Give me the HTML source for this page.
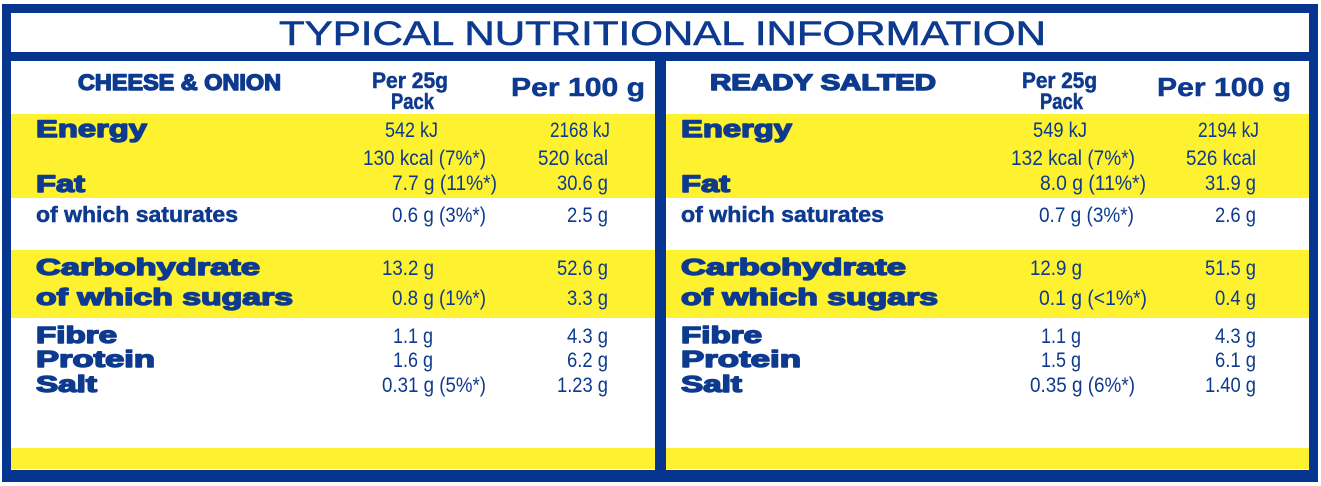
<!DOCTYPE html>
<html>
<head>
<meta charset="utf-8">
<style>
  html,body{margin:0;padding:0;background:#fff;}
  svg{display:block;}
  .t{font-family:"Liberation Sans",Arial,sans-serif;fill:#0d3a8e;}
  .hv{font-weight:700;stroke:#0d3a8e;stroke-width:1.4;stroke-linejoin:round;}
  .bc{font-weight:700;stroke:#0d3a8e;stroke-width:0.5;}
  .v{font-weight:400;}
  .ti{stroke:#0d3a8e;stroke-width:0.6;}
</style>
</head>
<body>
<svg width="1321" height="486" viewBox="0 0 1321 486" xmlns="http://www.w3.org/2000/svg">
  <rect x="0" y="0" width="1321" height="486" fill="#ffffff"/>
  <rect x="2" y="4" width="1316" height="478" fill="#06358f"/>
  <rect x="11" y="13" width="1298" height="39" fill="#ffffff"/>
  <rect x="11" y="61" width="644" height="409" fill="#ffffff"/>
  <rect x="666" y="61" width="643" height="409" fill="#ffffff"/>
  <rect x="11" y="114" width="644" height="84" fill="#fdf130"/>
  <rect x="11" y="250" width="644" height="68" fill="#fdf130"/>
  <rect x="11" y="448" width="644" height="21" fill="#fdf130"/>
  <rect x="666" y="114" width="643" height="84" fill="#fdf130"/>
  <rect x="666" y="250" width="643" height="68" fill="#fdf130"/>
  <rect x="666" y="448" width="643" height="21" fill="#fdf130"/>

  <text class="t ti" x="279" y="45" font-size="34" textLength="767" lengthAdjust="spacingAndGlyphs">TYPICAL NUTRITIONAL INFORMATION</text>

  <text class="t hv" x="78" y="90" font-size="22" textLength="203" lengthAdjust="spacingAndGlyphs">CHEESE &amp; ONION</text>
  <text class="t bc" x="372" y="88" font-size="22" textLength="76" lengthAdjust="spacingAndGlyphs">Per 25g</text>
  <text class="t bc" x="391" y="109" font-size="22" textLength="43" lengthAdjust="spacingAndGlyphs">Pack</text>
  <text class="t bc" x="511" y="96" font-size="26" textLength="134" lengthAdjust="spacingAndGlyphs">Per 100 g</text>

  <text class="t hv" x="36" y="137" font-size="24" textLength="111" lengthAdjust="spacingAndGlyphs">Energy</text>
  <text class="t hv" x="36" y="192" font-size="24" textLength="49" lengthAdjust="spacingAndGlyphs">Fat</text>
  <text class="t bc" x="36" y="222" font-size="22" textLength="202" lengthAdjust="spacingAndGlyphs">of which saturates</text>
  <text class="t hv" x="36" y="275" font-size="23" textLength="224" lengthAdjust="spacingAndGlyphs">Carbohydrate</text>
  <text class="t hv" x="36" y="305" font-size="23" textLength="257" lengthAdjust="spacingAndGlyphs">of which sugars</text>
  <text class="t hv" x="36" y="343" font-size="23" textLength="81" lengthAdjust="spacingAndGlyphs">Fibre</text>
  <text class="t hv" x="36" y="367" font-size="23" textLength="119" lengthAdjust="spacingAndGlyphs">Protein</text>
  <text class="t hv" x="36" y="392" font-size="23" textLength="61" lengthAdjust="spacingAndGlyphs">Salt</text>

  <text class="t v" x="385" y="137" font-size="21" textLength="53" lengthAdjust="spacingAndGlyphs">542 kJ</text>
  <text class="t v" x="363" y="165" font-size="21" textLength="123" lengthAdjust="spacingAndGlyphs">130 kcal (7%*)</text>
  <text class="t v" x="392" y="190" font-size="21" textLength="105" lengthAdjust="spacingAndGlyphs">7.7 g (11%*)</text>
  <text class="t v" x="392" y="222" font-size="21" textLength="94" lengthAdjust="spacingAndGlyphs">0.6 g (3%*)</text>
  <text class="t v" x="382" y="275" font-size="21" textLength="52" lengthAdjust="spacingAndGlyphs">13.2 g</text>
  <text class="t v" x="392" y="305" font-size="21" textLength="94" lengthAdjust="spacingAndGlyphs">0.8 g (1%*)</text>
  <text class="t v" x="393" y="343" font-size="21" textLength="40" lengthAdjust="spacingAndGlyphs">1.1 g</text>
  <text class="t v" x="393" y="367" font-size="21" textLength="40" lengthAdjust="spacingAndGlyphs">1.6 g</text>
  <text class="t v" x="382" y="392" font-size="21" textLength="104" lengthAdjust="spacingAndGlyphs">0.31 g (5%*)</text>

  <text class="t v" x="550" y="137" font-size="21" textLength="60" lengthAdjust="spacingAndGlyphs">2168 kJ</text>
  <text class="t v" x="538" y="165" font-size="21" textLength="70" lengthAdjust="spacingAndGlyphs">520 kcal</text>
  <text class="t v" x="557" y="190" font-size="21" textLength="51" lengthAdjust="spacingAndGlyphs">30.6 g</text>
  <text class="t v" x="567" y="222" font-size="21" textLength="41" lengthAdjust="spacingAndGlyphs">2.5 g</text>
  <text class="t v" x="557" y="275" font-size="21" textLength="51" lengthAdjust="spacingAndGlyphs">52.6 g</text>
  <text class="t v" x="567" y="305" font-size="21" textLength="41" lengthAdjust="spacingAndGlyphs">3.3 g</text>
  <text class="t v" x="567" y="343" font-size="21" textLength="41" lengthAdjust="spacingAndGlyphs">4.3 g</text>
  <text class="t v" x="567" y="367" font-size="21" textLength="41" lengthAdjust="spacingAndGlyphs">6.2 g</text>
  <text class="t v" x="557" y="392" font-size="21" textLength="51" lengthAdjust="spacingAndGlyphs">1.23 g</text>

  <text class="t hv" x="710" y="90" font-size="22" textLength="226" lengthAdjust="spacingAndGlyphs">READY SALTED</text>
  <text class="t bc" x="1022" y="88" font-size="22" textLength="75" lengthAdjust="spacingAndGlyphs">Per 25g</text>
  <text class="t bc" x="1040" y="109" font-size="22" textLength="43" lengthAdjust="spacingAndGlyphs">Pack</text>
  <text class="t bc" x="1157" y="96" font-size="26" textLength="134" lengthAdjust="spacingAndGlyphs">Per 100 g</text>

  <text class="t hv" x="681" y="137" font-size="24" textLength="111" lengthAdjust="spacingAndGlyphs">Energy</text>
  <text class="t hv" x="681" y="192" font-size="24" textLength="49" lengthAdjust="spacingAndGlyphs">Fat</text>
  <text class="t bc" x="681" y="222" font-size="22" textLength="203" lengthAdjust="spacingAndGlyphs">of which saturates</text>
  <text class="t hv" x="681" y="275" font-size="23" textLength="225" lengthAdjust="spacingAndGlyphs">Carbohydrate</text>
  <text class="t hv" x="681" y="305" font-size="23" textLength="257" lengthAdjust="spacingAndGlyphs">of which sugars</text>
  <text class="t hv" x="681" y="343" font-size="23" textLength="81" lengthAdjust="spacingAndGlyphs">Fibre</text>
  <text class="t hv" x="681" y="367" font-size="23" textLength="120" lengthAdjust="spacingAndGlyphs">Protein</text>
  <text class="t hv" x="681" y="392" font-size="23" textLength="61" lengthAdjust="spacingAndGlyphs">Salt</text>

  <text class="t v" x="1033" y="137" font-size="21" textLength="54" lengthAdjust="spacingAndGlyphs">549 kJ</text>
  <text class="t v" x="1011" y="165" font-size="21" textLength="124" lengthAdjust="spacingAndGlyphs">132 kcal (7%*)</text>
  <text class="t v" x="1040" y="190" font-size="21" textLength="106" lengthAdjust="spacingAndGlyphs">8.0 g (11%*)</text>
  <text class="t v" x="1039" y="222" font-size="21" textLength="95" lengthAdjust="spacingAndGlyphs">0.7 g (3%*)</text>
  <text class="t v" x="1030" y="275" font-size="21" textLength="52" lengthAdjust="spacingAndGlyphs">12.9 g</text>
  <text class="t v" x="1039" y="305" font-size="21" textLength="108" lengthAdjust="spacingAndGlyphs">0.1 g (&lt;1%*)</text>
  <text class="t v" x="1041" y="343" font-size="21" textLength="40" lengthAdjust="spacingAndGlyphs">1.1 g</text>
  <text class="t v" x="1041" y="367" font-size="21" textLength="40" lengthAdjust="spacingAndGlyphs">1.5 g</text>
  <text class="t v" x="1030" y="392" font-size="21" textLength="105" lengthAdjust="spacingAndGlyphs">0.35 g (6%*)</text>

  <text class="t v" x="1198" y="137" font-size="21" textLength="61" lengthAdjust="spacingAndGlyphs">2194 kJ</text>
  <text class="t v" x="1186" y="165" font-size="21" textLength="70" lengthAdjust="spacingAndGlyphs">526 kcal</text>
  <text class="t v" x="1205" y="190" font-size="21" textLength="51" lengthAdjust="spacingAndGlyphs">31.9 g</text>
  <text class="t v" x="1215" y="222" font-size="21" textLength="41" lengthAdjust="spacingAndGlyphs">2.6 g</text>
  <text class="t v" x="1205" y="275" font-size="21" textLength="51" lengthAdjust="spacingAndGlyphs">51.5 g</text>
  <text class="t v" x="1215" y="305" font-size="21" textLength="41" lengthAdjust="spacingAndGlyphs">0.4 g</text>
  <text class="t v" x="1215" y="343" font-size="21" textLength="41" lengthAdjust="spacingAndGlyphs">4.3 g</text>
  <text class="t v" x="1215" y="367" font-size="21" textLength="41" lengthAdjust="spacingAndGlyphs">6.1 g</text>
  <text class="t v" x="1205" y="392" font-size="21" textLength="51" lengthAdjust="spacingAndGlyphs">1.40 g</text>
</svg>
</body>
</html>
